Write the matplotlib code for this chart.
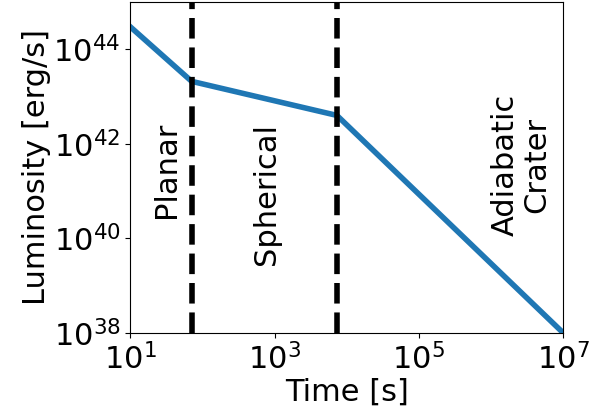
import matplotlib
matplotlib.use("Agg")
import matplotlib.pyplot as plt

time_s = [10, 71, 7300, 1e7]
luminosity = [3.0e44, 2.1e43, 4.0e42, 1e38]
transitions = [71, 7300]
labels = ["Planar", "Spherical", "Adiabatic\nCrater"]
label_x = [32, 780, 2.6e6]
label_y = [10**41.45, 10**40.94, 10**41.56]

fig = plt.figure(figsize=(6.03, 4.12), dpi=100)
ax = fig.add_axes([0.216, 0.192, 0.718, 0.803])
ax.loglog(time_s, luminosity, color="#1f77b4", lw=4)
for t in transitions:
    ax.axvline(t, color="black", ls="--", lw=4)
for lx, ly, lab in zip(label_x, label_y, labels):
    ax.text(lx, ly, lab, rotation=90, ha="center", va="center", fontsize=22,
            linespacing=1.1)
ax.set_xlim(10, 1e7)
ax.set_ylim(1e38, 1e45)
ax.set_xticks([1e1, 1e3, 1e5, 1e7])
ax.set_yticks([1e38, 1e40, 1e42, 1e44])
ax.minorticks_off()
ax.tick_params(labelsize=22)
ax.set_xlabel("Time [s]", fontsize=22, labelpad=2)
ax.set_ylabel("Luminosity [erg/s]", fontsize=22, labelpad=2)
fig.savefig("out.png", dpi=100)
